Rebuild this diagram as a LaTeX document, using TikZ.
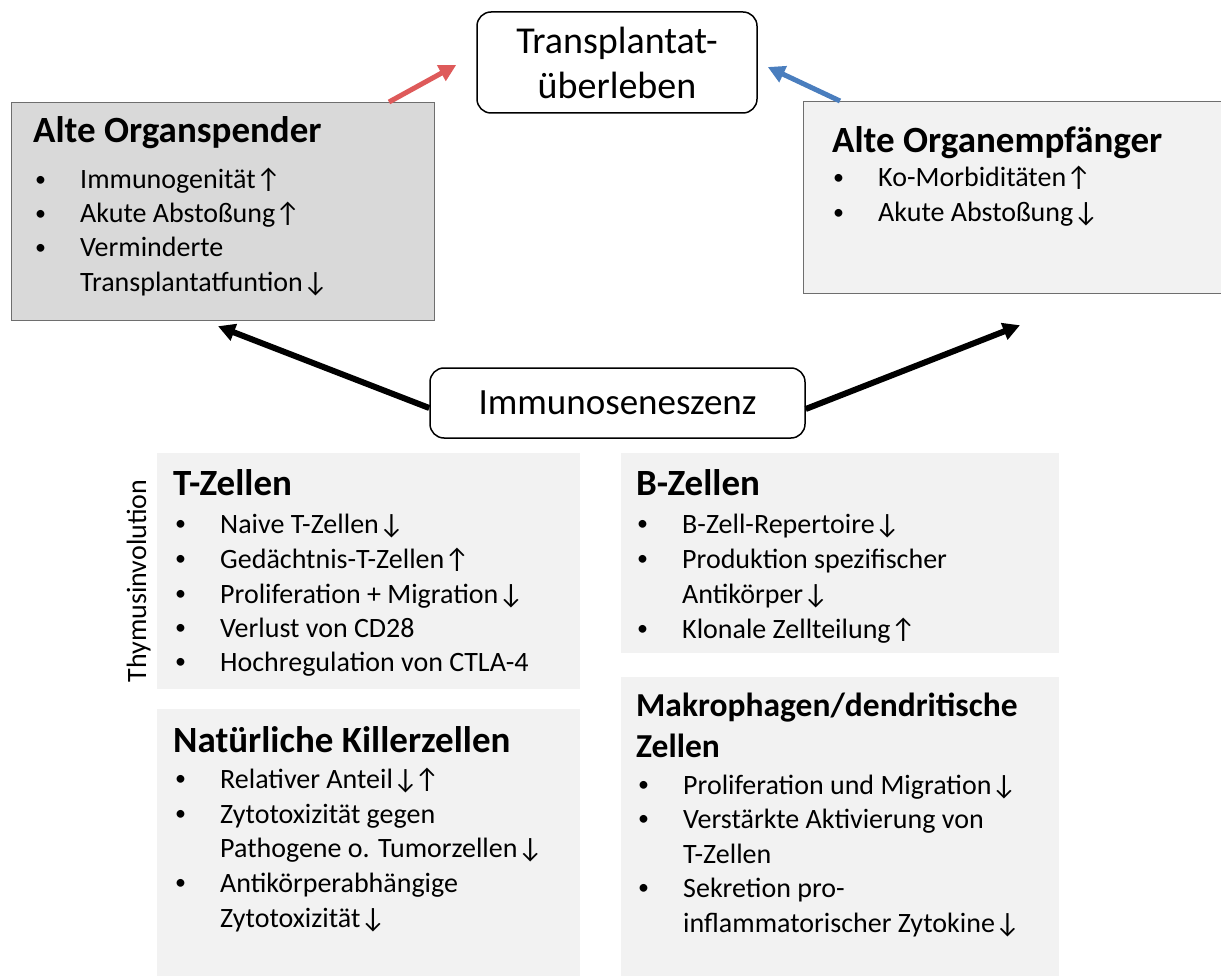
\documentclass[tikz,border=0pt]{standalone}
\usepackage{fontspec}
\setmainfont{Carlito}
\usetikzlibrary{arrows.meta,calc}
\definecolor{redarr}{RGB}{222,90,90}
\definecolor{bluearr}{RGB}{74,126,190}
\definecolor{boxdark}{RGB}{217,217,217}
\definecolor{boxlight}{RGB}{242,242,242}
\definecolor{boxedge}{RGB}{110,110,110}
\newcommand\smbullet{\raisebox{2.5pt}{\fontsize{22}{22}\selectfont\textbullet}}
\newcommand\bitem[4]{\node[itm] (#1) at (#2,#3) {\makebox[45pt][l]{\smbullet}#4};}
\newcommand\citem[4]{\node[itm] (#1) at (#2+45,#3) {#4};}
\begin{document}
\begin{tikzpicture}[x=1pt,y=-1pt,
 panel/.style={draw=boxedge,line width=1.2pt,anchor=north west,inner sep=0pt},
 flat/.style={fill=boxlight,draw=none,anchor=north west,inner sep=0pt},
 roundbox/.style={draw=black,line width=1.5pt,rounded corners=14pt,fill=white,inner sep=0pt,align=center},
 ttl/.style={font=\fontsize{37}{44}\selectfont\bfseries,anchor=base west,inner sep=0pt},
 ttlsmall/.style={font=\fontsize{33.5}{40}\selectfont\bfseries,anchor=base west,inner sep=0pt},
 itm/.style={font=\fontsize{28}{35}\selectfont,anchor=base west,inner sep=0pt},
 conn/.style={line width=5pt,-{Triangle[length=17pt,width=17pt]}}]
\useasboundingbox (0,0) rectangle (1221,976);
% panels
\node[panel,fill=boxdark,minimum width=423pt,minimum height=218pt] (spender) at (11,102) {};
\node[panel,fill=boxlight,minimum width=430pt,minimum height=192pt] (empf) at (803,101) {};
\node[flat,minimum width=423pt,minimum height=236pt] (tbox) at (157,453) {};
\node[flat,minimum width=438pt,minimum height=200pt] (bbox) at (621,453) {};
\node[flat,minimum width=423pt,minimum height=275pt] (nkbox) at (157,709) {};
\node[flat,minimum width=438pt,minimum height=305pt] (mbox) at (621,677) {};
% rounded nodes
\node[roundbox,minimum width=280pt,minimum height=101pt,font=\fontsize{38}{45}\selectfont] (tp) at (617,62.5) {Transplantat-\\überleben};
\node[roundbox,minimum width=375pt,minimum height=70pt,font=\fontsize{37}{42}\selectfont] (imm) at (617.5,403) {Immunoseneszenz};
% connectors
\draw[conn,redarr] ($(spender.north west)+(378,0)$) -- ($(tp.west)+(-20,2.5)$);
\draw[conn,bluearr] ($(empf.north west)+(37,0)$) -- ($(tp.east)+(10,4.5)$);
\draw[conn,black,line width=6pt] ($(imm.west)+(0,5)$) -- ($(spender.south west)+(207,5)$);
\draw[conn,black,line width=6pt] ($(imm.east)+(0,6)$) -- ($(empf.south west)+(217,31)$);
% Alte Organspender
\node[ttl] (t1) at (33,143) {Alte Organspender};
\bitem{s1}{35}{189}{Immunogenität↑}
\bitem{s2}{35}{223}{Akute Abstoßung↑}
\bitem{s3}{35}{257}{Verminderte}
\citem{s4}{35}{292}{Transplantatfuntion↓}
% Alte Organempfänger
\node[ttl] (t2) at (832,153) {Alte Organempfänger};
\bitem{e1}{833}{187}{Ko-Morbiditäten↑}
\bitem{e2}{833}{222}{Akute Abstoßung↓}
% T-Zellen
\node[ttl] (t3) at (173,495) {T-Zellen};
\bitem{z1}{175}{533}{Naive T-Zellen↓}
\bitem{z2}{175}{568}{Gedächtnis-T-Zellen↑}
\bitem{z3}{175}{603}{Proliferation + Migration↓}
\bitem{z4}{175}{637}{Verlust von CD28}
\bitem{z5}{175}{671}{Hochregulation von CTLA-4}
\node[font=\fontsize{28}{34}\selectfont,rotate=90,anchor=base,inner sep=0pt] (thy) at (146,581) {Thymusinvolution};
% B-Zellen
\node[ttl] (t4) at (636,495) {B-Zellen};
\bitem{b1}{637}{533}{B-Zell-Repertoire↓}
\bitem{b2}{637}{568}{Produktion spezifischer}
\citem{b3}{637}{603}{Antikörper↓}
\bitem{b4}{637}{638}{Klonale Zellteilung↑}
% NK
\node[ttl] (t5) at (173,752) {Natürliche Killerzellen};
\bitem{n1}{175}{788}{Relativer Anteil↓\kern-4pt↑}
\bitem{n2}{175}{823}{Zytotoxizität gegen}
\citem{n3}{175}{857}{Pathogene o. Tumorzellen↓}
\bitem{n4}{175}{892}{Antikörperabhängige}
\citem{n5}{175}{927}{Zytotoxizität↓}
% Makrophagen
\node[ttlsmall] (t6) at (636,716) {Makrophagen/dendritische};
\node[ttlsmall] (t7) at (636,757) {Zellen};
\bitem{m1}{638}{794}{Proliferation und Migration↓}
\bitem{m2}{638}{828}{Verstärkte Aktivierung von}
\citem{m3}{638}{863}{T-Zellen}
\bitem{m4}{638}{897}{Sekretion pro-}
\citem{m5}{638}{932}{inflammatorischer Zytokine↓}
\end{tikzpicture}
\end{document}
